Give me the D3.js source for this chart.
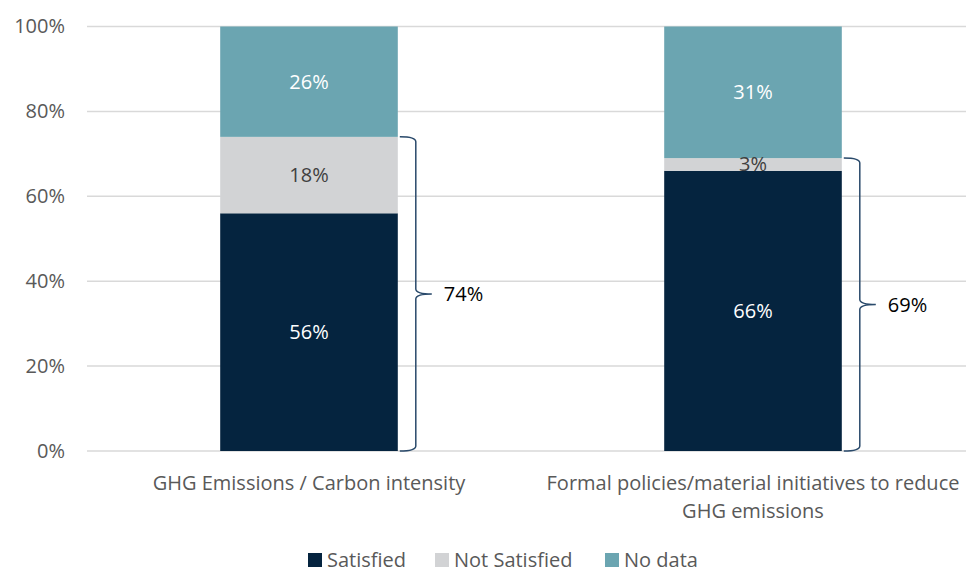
<!DOCTYPE html>
<html>
<head>
<meta charset="utf-8">
<script src="https://cdn.jsdelivr.net/npm/d3@7"></script>
<style>
  body { margin: 0; background: #fff; overflow: hidden; }
  svg { display: block; }
  svg text { font-family: "Open Sans", "Noto Sans", sans-serif; }
</style>
</head>
<body>
<svg id="chart"></svg>
<script>
let w = 966
let h = 574
let fs = "20px"

// data
let categories = ["GHG Emissions / Carbon intensity", "Formal policies/material initiatives to reduce GHG emissions"]
let catLines = [["GHG Emissions / Carbon intensity"], ["Formal policies/material initiatives to reduce", "GHG emissions"]]
let seriesNames = ["Satisfied", "Not Satisfied", "No data"]
let satisfied = [56, 66]
let notSatisfied = [18, 3]
let noData = [26, 31]
let bracketTotals = [74, 69]
let yTicks = [0, 20, 40, 60, 80, 100]

let colors = ["#05243f", "#d2d3d5", "#6ba5b1"]
let labelColors = ["#ffffff", "#404040", "#ffffff"]

let svg = d3.select("#chart").attr("width", w).attr("height", h)

let x = d3.scaleBand().domain(categories).range([87, 975]).paddingInner(0.6).paddingOuter(0.3)
let y = d3.scaleLinear().domain([0, 100]).range([451, 26.5])

// gridlines
svg.append("g").selectAll("line")
  .data(yTicks)
  .join("line")
  .attr("x1", 87).attr("x2", w)
  .attr("y1", d => y(d)).attr("y2", d => y(d))
  .attr("stroke", "#d9d9d9").attr("stroke-width", 1.5)

let yAxis = svg.append("g")
  .attr("transform", "translate(73,0)")
  .call(d3.axisLeft(y).tickValues(yTicks).tickFormat(d => d + "%").tickSize(0).tickPadding(8))
yAxis.select(".domain").remove()
yAxis.selectAll("text").attr("fill", "#595959").style("font-size", fs)

let rows = categories.map((c, i) => ({ cat: c, Satisfied: satisfied[i], "Not Satisfied": notSatisfied[i], "No data": noData[i] }))
let stacked = d3.stack().keys(seriesNames)(rows)

let groups = svg.append("g").selectAll("g")
  .data(stacked)
  .join("g")
  .attr("fill", (d, i) => colors[i])

groups.selectAll("rect")
  .data(d => d)
  .join("rect")
  .attr("x", d => x(d.data.cat))
  .attr("width", x.bandwidth())
  .attr("y", d => y(d[1]))
  .attr("height", d => y(d[0]) - y(d[1]))

// value labels
stacked.forEach((s, i) => {
  svg.append("g").selectAll("text")
    .data(s)
    .join("text")
    .attr("x", d => x(d.data.cat) + x.bandwidth() / 2)
    .attr("y", d => (y(d[0]) + y(d[1])) / 2)
    .attr("dy", "0.35em")
    .attr("text-anchor", "middle")
    .attr("fill", labelColors[i])
    .style("font-size", fs)
    .text(d => (d[1] - d[0]) + "%")
})

// brackets
categories.forEach((c, i) => {
  let x0 = x(c) + x.bandwidth() + 2
  let x1 = x0 + 16
  let x2 = x1 + 16
  let top = y(bracketTotals[i])
  let bot = y(0)
  let mid = (top + bot) / 2
  let r = 5
  let p = `M${x0},${top} Q${x1},${top} ${x1},${top + r} L${x1},${mid - r} Q${x1},${mid} ${x2},${mid}`
    + ` M${x2},${mid} Q${x1},${mid} ${x1},${mid + r} L${x1},${bot - r} Q${x1},${bot} ${x0},${bot}`
  svg.append("path").attr("d", p).attr("fill", "none").attr("stroke", "#2a4a6b").attr("stroke-width", 1.5)
  svg.append("text")
    .attr("x", x2 + 12).attr("y", mid).attr("dy", "0.35em")
    .attr("fill", "#000").style("font-size", fs)
    .text(bracketTotals[i] + "%")
})

// category labels
categories.forEach((c, i) => {
  svg.append("text")
    .attr("x", x(c) + x.bandwidth() / 2)
    .attr("y", 490)
    .attr("text-anchor", "middle")
    .attr("fill", "#595959")
    .style("font-size", fs)
    .selectAll("tspan")
    .data(catLines[i])
    .join("tspan")
    .attr("x", x(c) + x.bandwidth() / 2)
    .attr("dy", (d, j) => j === 0 ? 0 : 28)
    .text(d => d)
})

// legend
let legendX = [308, 435, 605]
let legend = svg.append("g").selectAll("g")
  .data(seriesNames)
  .join("g")
  .attr("transform", (d, i) => `translate(${legendX[i]},553)`)
legend.append("rect").attr("width", 14).attr("height", 14).attr("fill", (d, i) => colors[i])
legend.append("text").attr("x", 19).attr("y", 7).attr("dy", "0.35em")
  .attr("fill", "#595959").style("font-size", fs).text(d => d)
</script>
</body>
</html>
